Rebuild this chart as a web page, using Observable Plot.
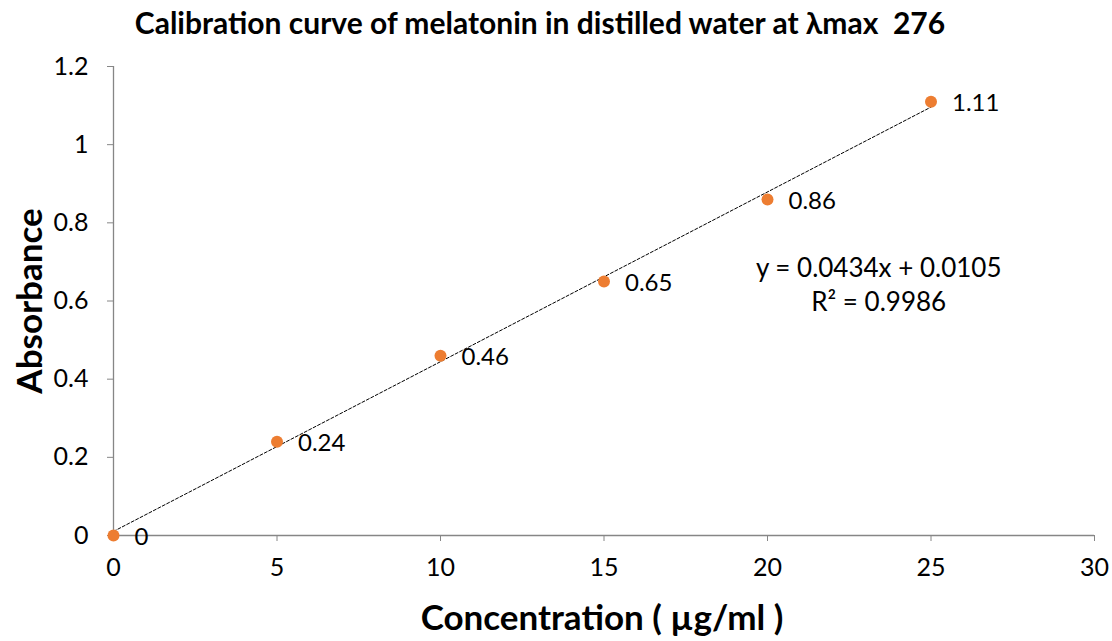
<!DOCTYPE html>
<html><head><meta charset="utf-8">
<script src="https://cdn.jsdelivr.net/npm/d3@7"></script>
<script src="https://cdn.jsdelivr.net/npm/@observablehq/plot@0.6"></script>
<style>
body{margin:0;background:#fff;font-family:Lato,"Open Sans",sans-serif;}
#title{height:44px;line-height:44px;font-weight:bold;font-size:30px;text-align:center;padding-right:32px;color:#000;white-space:pre;}
#chart svg{display:block;}
</style></head>
<body>
<div id="title">Calibration curve of melatonin in distilled water at λmax  276</div>
<div id="chart"></div>
<script>
const concentration = [0, 5, 10, 15, 20, 25];
const absorbance = [0, 0.24, 0.46, 0.65, 0.86, 1.11];
const pointLabels = ["0", "0.24", "0.46", "0.65", "0.86", "1.11"];
const xTicks = [0, 5, 10, 15, 20, 25, 30];
const yTicks = [0, 0.2, 0.4, 0.6, 0.8, 1, 1.2];
const equationText = "y = 0.0434x + 0.0105\nR² = 0.9986";
const equationAt = {x: 23.4, y: 0.645};

const data = concentration.map((c, i) => ({c, a: absorbance[i], label: pointLabels[i]}));

const chart = Plot.plot({
  width: 1112,
  height: 597,
  marginLeft: 113,
  marginRight: 18,
  marginTop: 22,
  marginBottom: 106,
  style: {fontFamily: "Lato, 'Open Sans', sans-serif", fontSize: "25px", color: "#000", background: "#fff"},
  x: {domain: [0, 30], label: null},
  y: {domain: [0, 1.2], label: null},
  marks: [
    Plot.ruleY([0], {stroke: "#868686", strokeWidth: 1.3}),
    Plot.ruleX([0], {stroke: "#868686", strokeWidth: 1.3}),
    Plot.axisX({ticks: xTicks, tickSize: 6, tickPadding: 17, stroke: "#868686", fill: "#000", fontSize: 25, label: null, tickFormat: d => String(d)}),
    Plot.axisY({ticks: yTicks, tickSize: 6, tickPadding: 19, stroke: "#868686", fill: "#000", fontSize: 25, label: null, tickFormat: d => String(d)}),
    Plot.linearRegressionY(data, {x: "c", y: "a", ci: 0, stroke: "#000", strokeWidth: 1, strokeDasharray: "3,2"}),
    Plot.dot(data, {x: "c", y: "a", r: 6, fill: "#ED7D31", stroke: "none"}),
    Plot.text(data, {x: "c", y: "a", text: "label", textAnchor: "start", dx: 21, dy: 2, fontSize: 24, fill: "#000"}),
    Plot.text([equationText], {x: () => equationAt.x, y: () => equationAt.y, text: d => d, fontSize: 26, lineHeight: 1.3, fill: "#000"}),
    Plot.text(["Concentration ( µg/ml )"], {frameAnchor: "bottom", textAnchor: "middle", lineAnchor: "middle", dy: 83, dx: -2, text: d => d, fontSize: 35, fontWeight: "bold", fill: "#000"}),
    Plot.text(["Absorbance"], {frameAnchor: "left", textAnchor: "middle", lineAnchor: "middle", dx: -83, dy: 0, rotate: -90, text: d => d, fontSize: 35, fontWeight: "bold", fill: "#000"})
  ]
});
document.getElementById("chart").appendChild(chart);
</script>
</body></html>
